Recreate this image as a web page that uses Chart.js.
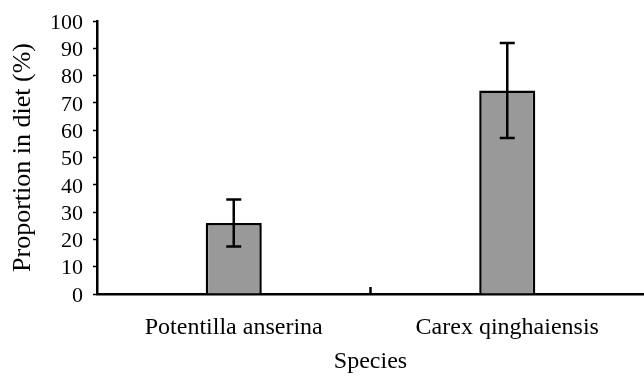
<!DOCTYPE html>
<html>
<head>
<meta charset="utf-8">
<script src="https://cdn.jsdelivr.net/npm/chart.js@4.4.1/dist/chart.umd.min.js"></script>
<style>
html,body{margin:0;padding:0;background:#fff;}
#wrap{width:644px;height:378px;}
</style>
</head>
<body>
<div id="wrap"><canvas id="c" width="644" height="378"></canvas></div>
<script>
const categories = ['Potentilla anserina', 'Carex qinghaiensis'];
const means = [26, 74.5];
const errors = [8.6, 17.4];
const yTicks = [0, 10, 20, 30, 40, 50, 60, 70, 80, 90, 100];

const FONT = 'Liberation Serif, Times New Roman, serif';

const errorBarPlugin = {
  id: 'errorBars',
  afterDatasetsDraw(chart) {
    const ctx = chart.ctx;
    const xs = chart.scales.x, ys = chart.scales.y;
    ctx.save();
    ctx.strokeStyle = '#000';
    ctx.lineWidth = 2.5;
    means.forEach((m, i) => {
      const x = xs.getPixelForValue(i);
      const yTop = ys.getPixelForValue(m + errors[i]);
      const yBot = ys.getPixelForValue(m - errors[i]);
      ctx.beginPath();
      ctx.moveTo(x, yTop); ctx.lineTo(x, yBot);
      ctx.moveTo(x - 7.5, yTop); ctx.lineTo(x + 7.5, yTop);
      ctx.moveTo(x - 7.5, yBot); ctx.lineTo(x + 7.5, yBot);
      ctx.stroke();
    });
    // inward tick between categories
    const mx = xs.getPixelForValue(0.5);
    const by = ys.getPixelForValue(0);
    ctx.lineWidth = 2.5;
    ctx.beginPath();
    ctx.moveTo(mx, by); ctx.lineTo(mx, by - 7);
    ctx.stroke();
    ctx.restore();
  }
};

new Chart(document.getElementById('c'), {
  type: 'bar',
  data: {
    labels: categories,
    datasets: [{
      data: means,
      backgroundColor: '#999999',
      borderColor: '#000000',
      borderWidth: 2.5,
      borderSkipped: 'bottom',
      barPercentage: 1,
      categoryPercentage: 0.205
    }]
  },
  options: {
    responsive: false,
    animation: false,
    devicePixelRatio: 1,
    layout: { padding: { top: 21, right: -4, left: 0, bottom: 0 } },
    plugins: { legend: { display: false }, tooltip: { enabled: false } },
    scales: {
      x: {
        offset: true,
        grid: { display: false },
        border: { display: true, color: '#000', width: 2.5 },
        ticks: { color: '#000', font: { family: FONT, size: 24 }, padding: 11, maxRotation: 0, autoSkip: false },
        title: { display: true, text: 'Species', color: '#000', font: { family: FONT, size: 24, lineHeight: 1 }, padding: { top: 0, bottom: 4 } },
        afterFit(s) { s.height = 84; s.paddingLeft = 0; s.paddingRight = 0; }
      },
      y: {
        min: 0, max: 100,
        afterBuildTicks(s) { s.ticks = yTicks.map(v => ({ value: v })); },
        grid: { display: true, drawOnChartArea: false, drawTicks: true, tickLength: 4, tickWidth: 1.5, color: '#000' },
        border: { display: true, color: '#000', width: 2.5 },
        ticks: { color: '#000', font: { family: FONT, size: 22 }, padding: 10, autoSkip: false, labelOffset: 2 },
        title: { display: true, text: 'Proportion in diet (%)', color: '#000', font: { family: FONT, size: 26, lineHeight: 1 }, padding: { top: 10, bottom: 0 } },
        afterFit(s) { s.width = 97; s.paddingTop = 0; s.paddingBottom = 0; }
      }
    }
  },
  plugins: [errorBarPlugin]
});
</script>
</body>
</html>
